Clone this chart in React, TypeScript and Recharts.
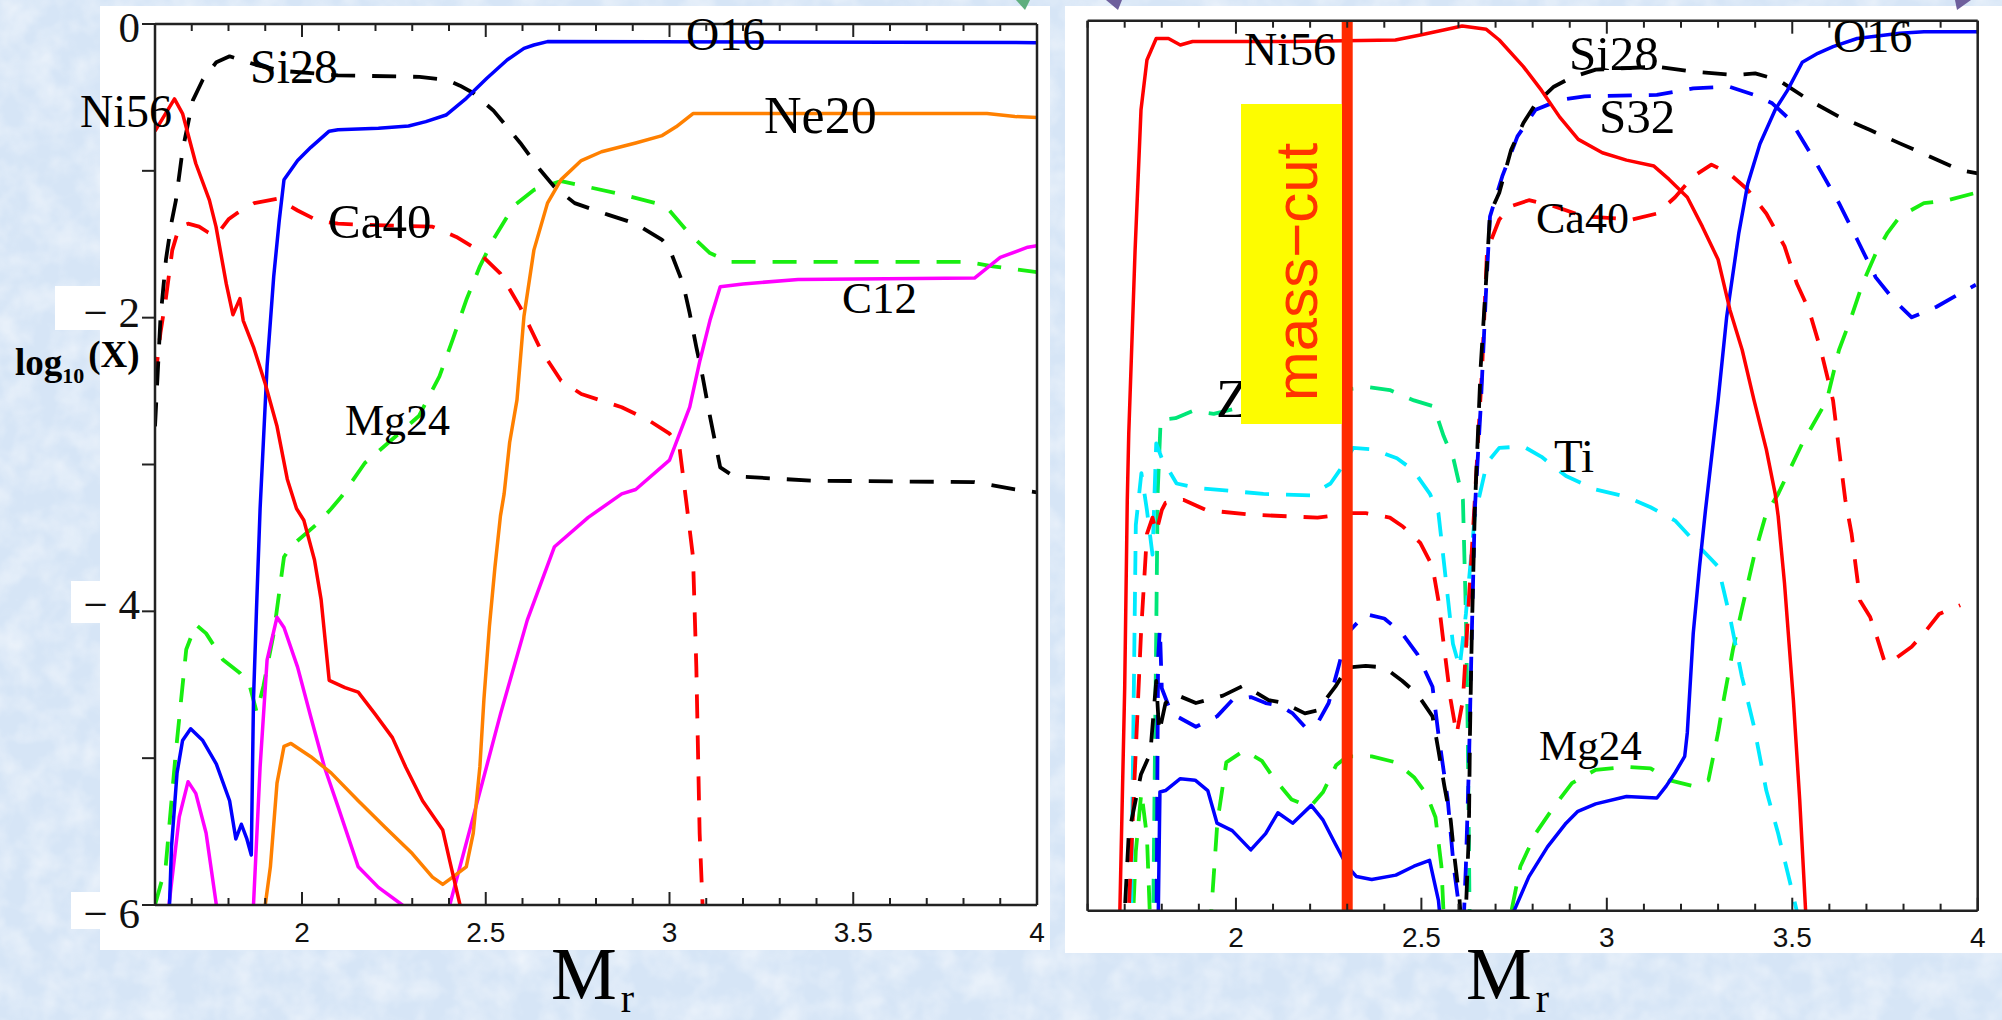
import React from 'react';
import { LineChart, Line, XAxis, YAxis, ReferenceLine } from 'recharts';

type Pt = [number, number];

// ---- axes ----
const X_DOMAIN: [number, number] = [1.6, 4];
const Y_DOMAIN: [number, number] = [-6, 0];
const X_TICKS = [1.6, 1.7, 1.8, 1.9, 2, 2.1, 2.2, 2.3, 2.4, 2.5, 2.6, 2.7, 2.8, 2.9, 3, 3.1, 3.2, 3.3, 3.4, 3.5, 3.6, 3.7, 3.8, 3.9, 4];
const X_MAJOR = [2, 2.5, 3, 3.5, 4];
const X_LABELS = ['2', '2.5', '3', '3.5', '4'];
const Y_TICKS = [0, -1, -2, -3, -4, -5, -6];
const Y_LABELLED = [0, -2, -4, -6];
const Y_LABELS = ['0', '\u2212 2', '\u2212 4', '\u2212 6'];
const MASS_CUT = 2.3;

// ---- left panel: abundances (log10 X) vs Mr ----
const L_NI56: Pt[] = [[1.6,-0.73],[1.653,-0.51],[1.675,-0.61],[1.711,-0.95],[1.748,-1.2],[1.766,-1.38],[1.794,-1.77],[1.812,-1.98],[1.831,-1.87],[1.84,-2.02],[1.868,-2.2],[1.9,-2.45],[1.932,-2.74],[1.96,-3.1],[1.985,-3.3],[2.005,-3.38],[2.034,-3.65],[2.052,-3.92],[2.074,-4.47],[2.117,-4.52],[2.153,-4.55],[2.199,-4.7],[2.246,-4.86],[2.282,-5.06],[2.328,-5.29],[2.383,-5.49],[2.402,-5.7],[2.43,-6.0],[2.44,-6.4]];
const L_CA40: Pt[] = [[1.6,-2.43],[1.615,-2.1],[1.629,-1.88],[1.647,-1.54],[1.666,-1.38],[1.69,-1.36],[1.72,-1.38],[1.745,-1.42],[1.767,-1.44],[1.8,-1.33],[1.822,-1.29],[1.87,-1.22],[1.932,-1.19],[1.988,-1.27],[2.043,-1.34],[2.098,-1.36],[2.2,-1.37],[2.355,-1.38],[2.42,-1.45],[2.466,-1.52],[2.54,-1.7],[2.594,-1.93],[2.65,-2.22],[2.705,-2.43],[2.76,-2.52],[2.87,-2.61],[2.944,-2.7],[3.0,-2.79],[3.027,-2.88],[3.045,-3.24],[3.064,-3.63],[3.073,-4.38],[3.082,-5.51],[3.09,-6.0],[3.095,-6.5]];
const L_SI28: Pt[] = [[1.6,-2.74],[1.615,-2.0],[1.63,-1.6],[1.645,-1.35],[1.657,-1.2],[1.675,-0.86],[1.703,-0.52],[1.73,-0.38],[1.767,-0.26],[1.803,-0.22],[1.877,-0.28],[1.951,-0.32],[2.098,-0.35],[2.32,-0.36],[2.392,-0.38],[2.43,-0.42],[2.466,-0.47],[2.521,-0.59],[2.594,-0.81],[2.65,-1.0],[2.687,-1.11],[2.742,-1.22],[2.834,-1.3],[2.908,-1.36],[2.98,-1.47],[3.0,-1.53],[3.037,-1.77],[3.055,-1.97],[3.073,-2.2],[3.09,-2.4],[3.11,-2.67],[3.138,-3.02],[3.175,-3.08],[3.387,-3.11],[3.83,-3.12],[3.94,-3.17],[4.0,-3.19]];
const L_O16: Pt[] = [[1.634,-6.4],[1.645,-5.6],[1.66,-5.1],[1.675,-4.88],[1.697,-4.8],[1.73,-4.88],[1.767,-5.04],[1.803,-5.29],[1.82,-5.55],[1.835,-5.45],[1.85,-5.55],[1.862,-5.66],[1.868,-4.6],[1.876,-4.0],[1.886,-3.3],[1.905,-2.33],[1.923,-1.72],[1.938,-1.34],[1.951,-1.06],[1.988,-0.93],[2.024,-0.84],[2.074,-0.73],[2.098,-0.72],[2.208,-0.71],[2.29,-0.695],[2.337,-0.665],[2.392,-0.62],[2.447,-0.506],[2.503,-0.37],[2.558,-0.245],[2.604,-0.166],[2.631,-0.143],[2.668,-0.12],[4.0,-0.127]];
const L_NE20: Pt[] = [[1.895,-6.4],[1.9,-6.0],[1.914,-5.74],[1.932,-5.17],[1.951,-4.92],[1.97,-4.9],[2.024,-4.99],[2.079,-5.1],[2.153,-5.29],[2.226,-5.47],[2.3,-5.65],[2.355,-5.81],[2.383,-5.86],[2.41,-5.81],[2.447,-5.74],[2.466,-5.51],[2.484,-5.06],[2.495,-4.6],[2.51,-4.1],[2.525,-3.7],[2.54,-3.35],[2.55,-3.2],[2.565,-2.85],[2.585,-2.56],[2.604,-1.99],[2.631,-1.54],[2.668,-1.22],[2.705,-1.06],[2.76,-0.93],[2.815,-0.87],[2.908,-0.81],[2.98,-0.76],[3.018,-0.7],[3.064,-0.61],[3.864,-0.61],[3.94,-0.63],[4.0,-0.636]];
const L_MG24: Pt[] = [[1.6,-6.0],[1.629,-5.74],[1.657,-4.95],[1.685,-4.26],[1.711,-4.09],[1.739,-4.15],[1.785,-4.33],[1.831,-4.42],[1.858,-4.51],[1.877,-4.69],[1.895,-4.51],[1.923,-4.15],[1.951,-3.63],[1.969,-3.56],[2.043,-3.4],[2.08,-3.3],[2.107,-3.22],[2.171,-2.99],[2.245,-2.83],[2.318,-2.67],[2.374,-2.4],[2.41,-2.15],[2.447,-1.88],[2.484,-1.65],[2.52,-1.47],[2.576,-1.24],[2.631,-1.13],[2.705,-1.07],[2.76,-1.1],[2.87,-1.16],[2.963,-1.22],[3.0,-1.27],[3.055,-1.43],[3.11,-1.56],[3.165,-1.62],[3.81,-1.62],[3.88,-1.65],[4.0,-1.69]];
const L_C12: Pt[] = [[1.632,-6.5],[1.638,-6.0],[1.666,-5.4],[1.69,-5.16],[1.711,-5.24],[1.739,-5.51],[1.767,-6.0],[1.775,-6.5],[1.86,-6.5],[1.868,-6.0],[1.886,-5.06],[1.905,-4.33],[1.932,-4.04],[1.951,-4.11],[1.988,-4.38],[2.024,-4.72],[2.061,-5.06],[2.098,-5.33],[2.153,-5.74],[2.208,-5.88],[2.273,-6.0],[2.29,-6.3],[2.39,-6.3],[2.402,-6.0],[2.466,-5.4],[2.54,-4.7],[2.613,-4.06],[2.687,-3.56],[2.779,-3.36],[2.87,-3.2],[2.908,-3.17],[3.0,-2.97],[3.055,-2.61],[3.083,-2.29],[3.11,-2.02],[3.138,-1.79],[3.2,-1.77],[3.35,-1.74],[3.83,-1.73],[3.9,-1.59],[3.975,-1.52],[4.0,-1.51]];

// ---- right panel ----
const R_NI56: Pt[] = [[1.68,-6.5],[1.687,-6.0],[1.7,-4.5],[1.707,-3.23],[1.711,-2.78],[1.728,-1.55],[1.744,-0.6],[1.76,-0.265],[1.785,-0.12],[1.818,-0.12],[1.85,-0.164],[1.883,-0.14],[2.153,-0.14],[2.43,-0.13],[2.497,-0.097],[2.56,-0.063],[2.61,-0.036],[2.675,-0.058],[2.71,-0.13],[2.775,-0.31],[2.824,-0.47],[2.873,-0.65],[2.923,-0.8],[2.988,-0.89],[3.053,-0.94],[3.127,-0.98],[3.168,-1.07],[3.217,-1.19],[3.258,-1.39],[3.3,-1.61],[3.332,-1.95],[3.365,-2.22],[3.397,-2.56],[3.43,-2.89],[3.454,-3.19],[3.462,-3.34],[3.479,-3.79],[3.503,-4.58],[3.52,-5.25],[3.536,-6.0],[3.545,-6.5]];
const R_O16: Pt[] = [[1.788,-6.5],[1.795,-5.2],[1.81,-5.19],[1.85,-5.11],[1.89,-5.12],[1.924,-5.19],[1.949,-5.41],[1.99,-5.46],[2.04,-5.59],[2.08,-5.48],[2.113,-5.34],[2.153,-5.41],[2.203,-5.29],[2.235,-5.39],[2.268,-5.55],[2.3,-5.7],[2.325,-5.77],[2.366,-5.79],[2.431,-5.76],[2.48,-5.7],[2.522,-5.66],[2.546,-5.93],[2.56,-6.3],[2.74,-6.5],[2.75,-6.0],[2.79,-5.77],[2.84,-5.57],[2.89,-5.41],[2.922,-5.33],[2.97,-5.28],[3.053,-5.23],[3.135,-5.24],[3.16,-5.16],[3.184,-5.07],[3.21,-4.96],[3.217,-4.8],[3.233,-4.13],[3.25,-3.68],[3.266,-3.3],[3.3,-2.56],[3.323,-2.0],[3.356,-1.43],[3.38,-1.1],[3.413,-0.83],[3.454,-0.6],[3.487,-0.47],[3.527,-0.28],[3.569,-0.22],[3.61,-0.175],[3.675,-0.12],[3.79,-0.085],[3.855,-0.074],[4.0,-0.074]];
const R_SI28: Pt[] = [[1.69,-6.5],[1.711,-5.48],[1.744,-5.08],[1.769,-4.94],[1.785,-4.45],[1.793,-4.8],[1.81,-4.6],[1.835,-4.54],[1.892,-4.6],[1.965,-4.55],[2.022,-4.48],[2.088,-4.58],[2.129,-4.6],[2.186,-4.67],[2.219,-4.65],[2.268,-4.49],[2.3,-4.36],[2.35,-4.35],[2.4,-4.36],[2.448,-4.45],[2.489,-4.54],[2.53,-4.69],[2.546,-4.92],[2.562,-5.16],[2.579,-5.39],[2.587,-5.59],[2.603,-5.93],[2.61,-6.2],[2.62,-6.0],[2.628,-5.48],[2.631,-4.81],[2.636,-4.13],[2.644,-3.3],[2.66,-2.33],[2.674,-1.77],[2.685,-1.3],[2.71,-1.16],[2.742,-0.87],[2.775,-0.69],[2.808,-0.56],[2.857,-0.445],[2.907,-0.38],[2.97,-0.33],[3.135,-0.31],[3.233,-0.344],[3.348,-0.366],[3.4,-0.355],[3.463,-0.4],[3.545,-0.535],[3.626,-0.647],[3.71,-0.737],[3.79,-0.827],[3.872,-0.917],[3.953,-1.007],[4.0,-1.03]];
const R_S32: Pt[] = [[1.785,-6.5],[1.79,-4.3],[1.795,-4.1],[1.8,-4.5],[1.826,-4.67],[1.892,-4.76],[1.949,-4.69],[1.99,-4.58],[2.04,-4.56],[2.08,-4.6],[2.12,-4.62],[2.153,-4.67],[2.186,-4.76],[2.219,-4.74],[2.25,-4.6],[2.276,-4.36],[2.3,-4.13],[2.35,-4.0],[2.4,-4.03],[2.448,-4.13],[2.489,-4.27],[2.53,-4.49],[2.546,-4.81],[2.571,-5.25],[2.587,-5.7],[2.603,-6.0],[2.612,-6.2],[2.62,-5.7],[2.628,-5.03],[2.636,-4.13],[2.644,-3.3],[2.66,-2.6],[2.674,-1.84],[2.685,-1.32],[2.718,-1.05],[2.759,-0.78],[2.808,-0.6],[2.873,-0.535],[2.94,-0.51],[3.135,-0.5],[3.233,-0.456],[3.33,-0.445],[3.397,-0.5],[3.446,-0.557],[3.495,-0.67],[3.56,-0.94],[3.626,-1.23],[3.676,-1.48],[3.725,-1.73],[3.773,-1.88],[3.822,-2.0],[3.888,-1.93],[3.937,-1.86],[3.995,-1.78]];
const R_CA40: Pt[] = [[1.705,-6.5],[1.711,-6.0],[1.728,-5.03],[1.744,-4.13],[1.76,-3.46],[1.775,-3.35],[1.785,-3.45],[1.8,-3.3],[1.81,-3.25],[1.858,-3.23],[1.92,-3.3],[2.04,-3.33],[2.22,-3.35],[2.31,-3.32],[2.35,-3.32],[2.415,-3.35],[2.45,-3.41],[2.497,-3.52],[2.53,-3.68],[2.546,-3.91],[2.562,-4.24],[2.579,-4.58],[2.595,-4.81],[2.612,-4.58],[2.628,-3.91],[2.644,-3.23],[2.664,-2.33],[2.677,-1.55],[2.71,-1.34],[2.742,-1.25],[2.79,-1.21],[2.857,-1.25],[2.939,-1.32],[3.07,-1.34],[3.135,-1.3],[3.184,-1.19],[3.233,-1.05],[3.282,-0.97],[3.33,-1.03],[3.38,-1.14],[3.43,-1.3],[3.479,-1.52],[3.512,-1.77],[3.545,-1.95],[3.577,-2.22],[3.61,-2.56],[3.626,-2.89],[3.643,-3.23],[3.66,-3.46],[3.683,-3.91],[3.71,-4.02],[3.725,-4.13],[3.75,-4.33],[3.773,-4.31],[3.822,-4.22],[3.855,-4.13],[3.896,-4.0],[3.953,-3.94]];
const R_MG24: Pt[] = [[1.715,-6.5],[1.73,-5.6],[1.745,-5.2],[1.76,-5.5],[1.775,-6.5],[1.92,-6.5],[1.95,-5.4],[1.974,-5.0],[2.022,-4.92],[2.07,-4.99],[2.1,-5.1],[2.15,-5.25],[2.2,-5.3],[2.235,-5.2],[2.27,-5.02],[2.3,-4.96],[2.366,-4.96],[2.431,-5.0],[2.48,-5.1],[2.513,-5.21],[2.538,-5.37],[2.554,-5.7],[2.565,-6.3],[2.7,-6.5],[2.743,-6.0],[2.767,-5.7],[2.808,-5.48],[2.857,-5.3],[2.906,-5.14],[2.97,-5.05],[3.053,-5.03],[3.118,-5.04],[3.168,-5.12],[3.233,-5.16],[3.274,-5.12],[3.3,-4.8],[3.315,-4.58],[3.34,-4.24],[3.364,-3.97],[3.397,-3.61],[3.43,-3.32],[3.462,-3.19],[3.527,-2.85],[3.593,-2.56],[3.626,-2.22],[3.659,-2.0],[3.69,-1.77],[3.725,-1.57],[3.757,-1.43],[3.79,-1.32],[3.855,-1.23],[3.92,-1.21],[3.995,-1.16]];
const R_ZN: Pt[] = [[1.775,-6.5],[1.789,-3.18],[1.797,-2.69],[1.837,-2.68],[1.885,-2.63],[1.94,-2.65],[1.99,-2.62],[2.12,-2.55],[2.284,-2.49],[2.354,-2.47],[2.415,-2.49],[2.48,-2.56],[2.533,-2.6],[2.56,-2.8],[2.587,-2.96],[2.612,-3.23],[2.62,-4.0],[2.625,-4.8],[2.632,-6.5]];
const R_TI: Pt[] = [[1.715,-6.5],[1.73,-3.4],[1.745,-3.05],[1.76,-3.3],[1.775,-3.6],[1.785,-2.85],[1.8,-2.95],[1.84,-3.12],[1.896,-3.15],[2.074,-3.19],[2.2,-3.2],[2.255,-3.12],[2.28,-3.03],[2.316,-2.88],[2.37,-2.89],[2.434,-2.95],[2.478,-3.03],[2.523,-3.19],[2.546,-3.32],[2.562,-3.68],[2.585,-4.2],[2.603,-4.36],[2.62,-4.0],[2.644,-3.34],[2.677,-2.98],[2.71,-2.88],[2.775,-2.87],[2.824,-2.94],[2.89,-3.07],[2.97,-3.16],[3.053,-3.21],[3.118,-3.28],[3.184,-3.37],[3.258,-3.57],[3.3,-3.68],[3.332,-4.02],[3.364,-4.42],[3.397,-4.76],[3.43,-5.19],[3.462,-5.48],[3.495,-5.82],[3.512,-6.0],[3.53,-6.5]];

// ---- styling ----
const RED = '#ff0000';
const BLUE = '#0000ff';
const BLACK = '#000000';
const ORANGE = '#ff8000';
const LIME = '#18ee10';
const MAGENTA = '#ff00ff';
const SPRING = '#00e678';
const CYAN = '#00eaff';
const AXIS = '#222222';
const DASH = '24 17';

type Series = { key: string; pts: Pt[]; color: string; dashed: boolean };

const LEFT_SERIES: Series[] = [
  { key: 'mg24', pts: L_MG24, color: LIME, dashed: true },
  { key: 'ca40', pts: L_CA40, color: RED, dashed: true },
  { key: 'si28', pts: L_SI28, color: BLACK, dashed: true },
  { key: 'c12', pts: L_C12, color: MAGENTA, dashed: false },
  { key: 'ne20', pts: L_NE20, color: ORANGE, dashed: false },
  { key: 'o16', pts: L_O16, color: BLUE, dashed: false },
  { key: 'ni56', pts: L_NI56, color: RED, dashed: false },
];

const RIGHT_SERIES: Series[] = [
  { key: 'mg24', pts: R_MG24, color: LIME, dashed: true },
  { key: 'zn', pts: R_ZN, color: SPRING, dashed: true },
  { key: 'ti', pts: R_TI, color: CYAN, dashed: true },
  { key: 'ca40', pts: R_CA40, color: RED, dashed: true },
  { key: 's32', pts: R_S32, color: BLUE, dashed: true },
  { key: 'si28', pts: R_SI28, color: BLACK, dashed: true },
  { key: 'o16', pts: R_O16, color: BLUE, dashed: false },
  { key: 'ni56', pts: R_NI56, color: RED, dashed: false },
];

const toRows = (pts: Pt[]) => pts.map(([x, y]) => ({ x, y }));

const SERIF = '"Liberation Serif", "Times New Roman", serif';
const SANS = '"Liberation Sans", Arial, sans-serif';

function makeXTick(side: 'top' | 'bottom', showLabel: boolean, labelDy: number) {
  return (props: any) => {
    const { x, y, payload } = props;
    const v = payload.value;
    const idx = X_MAJOR.indexOf(v);
    const len = idx >= 0 ? 13 : 7;
    const dir = side === 'bottom' ? -1 : 1;
    return (
      <g>
        <line x1={x} x2={x} y1={y} y2={y + dir * len} stroke={AXIS} strokeWidth={2} />
        {showLabel && idx >= 0 && (
          <text x={x} y={y + labelDy} textAnchor="middle" fontFamily={SANS} fontSize={28} fill="#111">
            {X_LABELS[idx]}
          </text>
        )}
      </g>
    );
  };
}

const Y_LABEL_DY = [18, 9, 8, 23];

const YLabelTick = (props: any) => {
  const { x, y, payload } = props;
  const i = Y_LABELLED.indexOf(payload.value);
  if (i < 0) return <g />;
  return (
    <text x={x - 2} y={y + Y_LABEL_DY[i]} textAnchor="end" fontFamily={SERIF} fontSize={43} fill="#111">
      {Y_LABELS[i]}
    </text>
  );
};

type PanelProps = {
  series: Series[];
  width: number;
  height: number;
  margin: { top: number; right: number; bottom: number; left: number };
  leftAxisWidth: number;
  rightAxisWidth: number;
  labelDy: number;
  yLabels: boolean;
  massCut?: number;
};

function Panel({ series, width, height, margin, leftAxisWidth, rightAxisWidth, labelDy, yLabels, massCut }: PanelProps) {
  const axisLine = { stroke: AXIS, strokeWidth: 2.5 };
  const tickLine = { stroke: AXIS, strokeWidth: 2 };
  return (
    <LineChart width={width} height={height} margin={margin}>
      <XAxis
        xAxisId="b"
        type="number"
        dataKey="x"
        orientation="bottom"
        domain={X_DOMAIN}
        allowDataOverflow
        ticks={X_TICKS}
        interval={0}
        height={50}
        axisLine={axisLine}
        tickLine={false}
        tickSize={0}
        tickMargin={0}
        tick={makeXTick('bottom', true, labelDy)}
      />
      <XAxis
        xAxisId="t"
        type="number"
        dataKey="x"
        orientation="top"
        domain={X_DOMAIN}
        allowDataOverflow
        ticks={X_TICKS}
        interval={0}
        height={10}
        axisLine={axisLine}
        tickLine={false}
        tickSize={0}
        tickMargin={0}
        tick={makeXTick('top', false, 0)}
      />
      <YAxis
        yAxisId="l"
        type="number"
        orientation="left"
        domain={Y_DOMAIN}
        allowDataOverflow
        ticks={Y_TICKS}
        interval={0}
        width={leftAxisWidth}
        axisLine={axisLine}
        tickLine={tickLine}
        tickSize={13}
        tickMargin={0}
        tick={yLabels ? YLabelTick : false}
      />
      <YAxis
        yAxisId="r"
        type="number"
        orientation="right"
        domain={Y_DOMAIN}
        allowDataOverflow
        ticks={Y_TICKS}
        interval={0}
        width={rightAxisWidth}
        axisLine={axisLine}
        tickLine={tickLine}
        tickSize={13}
        tickMargin={0}
        tick={false}
      />
      {series.map((s) => (
        <Line
          key={s.key}
          xAxisId="b"
          yAxisId="l"
          data={toRows(s.pts)}
          dataKey="y"
          type="linear"
          stroke={s.color}
          strokeWidth={s.dashed ? 3.8 : 3.5}
          strokeDasharray={s.dashed ? DASH : undefined}
          strokeLinejoin="round"
          dot={false}
          activeDot={false}
          isAnimationActive={false}
        />
      ))}
      {massCut !== undefined && (
        <ReferenceLine xAxisId="b" yAxisId="l" x={massCut} stroke="#ff2a00" strokeWidth={11} />
      )}
    </LineChart>
  );
}

function Label({ x, y, size, children }: { x: number; y: number; size: number; children: React.ReactNode }) {
  return (
    <text x={x} y={y} fontFamily={SERIF} fontSize={size} fill="#000">
      {children}
    </text>
  );
}

export default function App() {
  return (
    <div
      style={{
        position: 'absolute',
        left: 0,
        top: 0,
        width: 2002,
        height: 1020,
        overflow: 'hidden',
        background: '#dae8f7',
      }}
    >
      {/* mottled slide background */}
      <svg width={2002} height={1020} style={{ position: 'absolute', left: 0, top: 0 }}>
        <defs>
          <filter id="mottle" x="0" y="0" width="100%" height="100%">
            <feTurbulence type="fractalNoise" baseFrequency="0.035" numOctaves={3} seed={4} />
            <feColorMatrix
              type="matrix"
              values="0 0 0 0 1  0 0 0 0 1  0 0 0 0 1  0 0 0 -1.6 1.05"
            />
          </filter>
        </defs>
        <rect width={2002} height={1020} fill="#d6e5f6" />
        <rect width={2002} height={1020} filter="url(#mottle)" opacity={0.55} />
      </svg>

      {/* white panels and label patches */}
      <div style={{ position: 'absolute', left: 100, top: 6, width: 950, height: 944, background: '#fff' }} />
      <div style={{ position: 'absolute', left: 55, top: 286, width: 50, height: 44, background: '#fff' }} />
      <div style={{ position: 'absolute', left: 71, top: 581, width: 34, height: 42, background: '#fff' }} />
      <div style={{ position: 'absolute', left: 71, top: 892, width: 34, height: 37, background: '#fff' }} />
      <div style={{ position: 'absolute', left: 1065, top: 6, width: 937, height: 947, background: '#fff' }} />

      <div style={{ position: 'absolute', left: 0, top: 0 }}>
        <Panel
          series={LEFT_SERIES}
          width={1050}
          height={1020}
          margin={{ top: 14, right: 0, bottom: 65, left: 95 }}
          leftAxisWidth={60}
          rightAxisWidth={13}
          labelDy={37}
          yLabels
        />
      </div>
      <div style={{ position: 'absolute', left: 1050, top: 0 }}>
        <Panel
          series={RIGHT_SERIES}
          width={952}
          height={1020}
          margin={{ top: 10.7, right: 4.3, bottom: 59.3, left: 17.6 }}
          leftAxisWidth={20}
          rightAxisWidth={20}
          labelDy={36}
          yLabels={false}
          massCut={MASS_CUT}
        />
      </div>

      {/* annotations */}
      <svg width={2002} height={1020} style={{ position: 'absolute', left: 0, top: 0, pointerEvents: 'none' }}>
        <polygon points="1016,0 1030,0 1025,10" fill="#5fae7e" />
        <polygon points="1106,0 1122,0 1118,10" fill="#6e5f9c" />
        <polygon points="1955,0 1971,0 1957,10" fill="#6e5f9c" />

        {/* left panel species */}
        <Label x={80} y={127} size={46}>Ni56</Label>
        <Label x={250} y={83} size={48}>Si28</Label>
        <Label x={686} y={50} size={46}>O16</Label>
        <Label x={764} y={133} size={52}>Ne20</Label>
        <Label x={328} y={238} size={49}>Ca40</Label>
        <Label x={842} y={313} size={45}>C12</Label>
        <Label x={345} y={435} size={44}>Mg24</Label>

        {/* right panel species */}
        <Label x={1244} y={65} size={46}>Ni56</Label>
        <Label x={1569} y={70} size={49}>Si28</Label>
        <Label x={1599} y={133} size={49}>S32</Label>
        <Label x={1833} y={52} size={46}>O16</Label>
        <Label x={1536} y={233} size={44}>Ca40</Label>
        <Label x={1554} y={472} size={47}>Ti</Label>
        <Label x={1539} y={760} size={43}>Mg24</Label>
        <Label x={1216} y={417} size={54}>Zn</Label>

        {/* mass-cut tag */}
        <rect x={1241} y={104} width={101} height={320} fill="#fdfc00" />
        <text
          transform="translate(1317,272) rotate(-90)"
          textAnchor="middle"
          fontFamily={SANS}
          fontSize={60}
          fill="#ff3300"
        >
          {'mass\u2212cut'}
        </text>

        {/* y axis title */}
        <text x={15} y={375} fontFamily={SERIF} fontWeight="bold" fontSize={37} fill="#000">
          log
          <tspan fontSize={22} dy={8}>10</tspan>
          <tspan fontSize={37} dx={4} dy={-16}>(X)</tspan>
        </text>

        {/* x axis titles */}
        <text x={551} y={999} fontFamily={SERIF} fontSize={74} fill="#000">
          M<tspan fontSize={40} dx={4} dy={13}>r</tspan>
        </text>
        <text x={1466} y={999} fontFamily={SERIF} fontSize={74} fill="#000">
          M<tspan fontSize={40} dx={4} dy={13}>r</tspan>
        </text>
      </svg>
    </div>
  );
}
